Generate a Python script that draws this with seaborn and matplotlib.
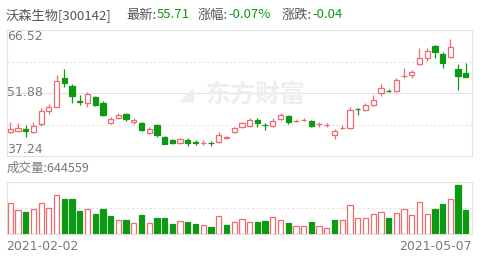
import matplotlib
matplotlib.use("Agg")
import matplotlib.pyplot as plt
import seaborn as sns
import numpy as np

sns.set_theme(style="white")
plt.rcParams['font.family'] = ['Noto Sans CJK SC', 'DejaVu Sans']

# ---- quote header ----
stock_name = "沃森生物"
stock_code = "300142"
last_price = 55.71
pct_change = -0.07
abs_change = -0.04
last_volume = 644559
start_date = "2021-02-02"
end_date = "2021-05-07"

# ---- daily OHLC ----
opens = [42.75, 43.05, 43.44, 42.88, 44.60, 47.70, 48.69, 55.43, 53.51, 50.02,
         49.49, 50.88, 49.49, 44.98, 46.00, 46.93, 45.21, 44.98, 42.51, 44.44,
         41.77, 40.96, 40.19, 40.96, 40.38, 40.31, 40.22, 40.42, 41.35, 42.75,
         44.05, 44.28, 45.60, 44.49, 44.28, 45.84, 46.60, 45.42, 45.58, 45.44,
         44.58, 44.42, 42.12, 43.66, 43.68, 48.13, 47.93, 49.09, 51.81, 52.44,
         52.34, 55.81, 56.06, 58.55, 60.08, 62.87, 60.94, 60.18, 57.46, 56.60]
highs = [45.07, 44.84, 44.44, 45.21, 48.32, 49.25, 56.06, 57.46, 53.90, 51.41,
         52.18, 51.25, 50.02, 46.37, 47.30, 47.16, 46.00, 45.21, 44.05, 44.74,
         41.96, 41.19, 41.49, 41.35, 40.96, 40.96, 40.72, 42.75, 41.89, 44.05,
         45.21, 46.14, 46.00, 44.84, 46.00, 47.16, 46.77, 45.84, 46.14, 45.60,
         45.07, 44.84, 43.51, 44.44, 48.69, 48.32, 49.49, 51.41, 53.90, 52.81,
         55.43, 57.62, 57.22, 62.41, 62.27, 63.03, 61.48, 64.43, 58.55, 58.78]
lows = [42.58, 42.75, 41.72, 42.51, 44.21, 46.93, 48.60, 53.34, 49.49, 49.09,
        48.69, 48.93, 46.60, 44.60, 45.77, 45.44, 44.60, 43.05, 42.35, 41.72,
        39.96, 40.03, 40.10, 39.63, 39.84, 39.79, 39.63, 40.19, 41.19, 42.51,
        43.81, 44.05, 44.05, 43.28, 44.05, 45.60, 44.74, 45.07, 45.37, 44.05,
        44.05, 43.98, 41.19, 43.51, 43.51, 46.77, 47.70, 48.93, 51.25, 52.18,
        52.18, 55.29, 55.43, 58.39, 59.32, 59.94, 57.76, 60.08, 52.58, 55.50]
closes = [43.51, 43.81, 43.05, 44.21, 47.70, 48.69, 54.67, 54.13, 51.18, 49.72,
          51.58, 49.09, 46.77, 45.77, 46.77, 45.84, 45.60, 43.28, 43.51, 42.12,
          40.14, 40.19, 41.12, 40.33, 40.33, 40.36, 40.17, 42.12, 41.72, 43.68,
          44.84, 45.60, 44.84, 44.44, 45.44, 46.77, 45.21, 45.46, 45.62, 44.28,
          44.62, 44.46, 43.05, 43.70, 47.93, 48.07, 49.09, 50.25, 53.11, 52.39,
          54.90, 55.85, 56.83, 59.94, 61.64, 61.48, 58.78, 62.50, 55.75, 55.71]
volumes = [824000, 645000, 600000, 680000, 824000, 698000, 1047000, 949000, 949000, 618000,
           662000, 537000, 680000, 483000, 367000, 367000, 295000, 501000, 295000, 430000,
           430000, 278000, 349000, 313000, 278000, 233000, 188000, 474000, 251000, 331000,
           394000, 322000, 322000, 349000, 448000, 376000, 286000, 215000, 215000, 331000,
           206000, 170000, 385000, 385000, 779000, 421000, 430000, 537000, 582000, 439000,
           555000, 671000, 501000, 850000, 537000, 680000, 815000, 931000, 1316000, 644559]
# day-over-day direction used for the volume bars (1 = up, 0 = down)
volume_up = [1, 1, 0, 1, 1, 1, 1, 0, 0, 0, 1, 0, 0, 0, 1, 0, 1, 0, 1, 0,
             0, 0, 1, 0, 0, 1, 0, 1, 0, 1, 1, 1, 0, 0, 1, 1, 0, 1, 1, 0,
             1, 1, 0, 1, 1, 1, 1, 1, 1, 0, 1, 1, 1, 1, 1, 0, 0, 1, 0, 0]

price_min, price_max = 37.24, 66.52

RED = "#f06a70"
GREEN = "#0c9a12"
GRID = "#e2e2e2"
LABEL = "#7a7a7a"

W, H = 499, 261
fig = plt.figure(figsize=(W / 100, H / 100), dpi=100)
fig.patch.set_facecolor("white")

left, right = 7, 472
ax_p = fig.add_axes([left / W, (H - 156) / H, (right - left) / W, 126 / H])
ax_v = fig.add_axes([left / W, (H - 234) / H, (right - left) / W, 52 / H])

n = len(closes)
x = np.arange(n)
xlim = (-0.42, n - 1 + 0.8)
body_w = 0.68

# ---- candlesticks ----
for i in x:
    o, h, l, c = opens[i], highs[i], lows[i], closes[i]
    up = c >= o
    col = RED if up else GREEN
    top, bot = max(o, c), min(o, c)
    ax_p.vlines(i, top, h, color=col, lw=0.9, zorder=2)
    ax_p.vlines(i, l, bot, color=col, lw=0.9, zorder=2)
    height = max(top - bot, 0.02)
    if up:
        ax_p.bar(i, height, bottom=bot, width=body_w, facecolor="white",
                 edgecolor=col, linewidth=0.9, zorder=3)
    else:
        ax_p.bar(i, height, bottom=bot, width=body_w, facecolor=col,
                 edgecolor=col, linewidth=0.9, zorder=3)

ax_p.set_xlim(*xlim)
ax_p.set_ylim(price_min, price_max)
span = price_max - price_min
for k, ls in [(0.25, (0, (2, 2))), (0.5, "-"), (0.75, (0, (2, 2)))]:
    ax_p.axhline(price_min + span * k, color=GRID, lw=0.8, ls=ls, zorder=0)

# watermark
ax_p.text(0.535, 0.49, "东方财富", transform=ax_p.transAxes, fontsize=18,
          fontweight="bold", color="#eeeeee", ha="center", va="center", zorder=1)
ax_p.text(0.385, 0.49, "◢", transform=ax_p.transAxes, fontsize=14,
          color="#eeeeee", ha="center", va="center", zorder=1,
          family=["DejaVu Sans"])

mid = (price_min + price_max) / 2
ax_p.text(0.0, price_max, f"{price_max:.2f}", transform=ax_p.get_yaxis_transform(),
          fontsize=9, color=LABEL, ha="left", va="top", family=["DejaVu Sans"])
ax_p.text(0.0, mid, f"{mid:.2f}", transform=ax_p.get_yaxis_transform(),
          fontsize=9, color=LABEL, ha="left", va="center", family=["DejaVu Sans"])
ax_p.text(0.0, price_min, f"{price_min:.2f}", transform=ax_p.get_yaxis_transform(),
          fontsize=9, color=LABEL, ha="left", va="bottom", family=["DejaVu Sans"])

# ---- volume bars ----
vmax = max(volumes) * 1.06
for i in x:
    col = RED if volume_up[i] else GREEN
    if volume_up[i]:
        ax_v.bar(i, volumes[i], width=body_w, facecolor="white", edgecolor=col,
                 linewidth=0.9, zorder=3)
    else:
        ax_v.bar(i, volumes[i], width=body_w, facecolor=col, edgecolor=col,
                 linewidth=0.9, zorder=3)
ax_v.set_xlim(*xlim)
ax_v.set_ylim(0, vmax)
ax_v.axhline(vmax / 2, color=GRID, lw=0.8, ls=(0, (2, 2)), zorder=0)

for ax in (ax_p, ax_v):
    ax.set_xticks([])
    ax.set_yticks([])
    for s in ax.spines.values():
        s.set_color(GRID)
        s.set_linewidth(0.8)
    ax.set_facecolor("white")

# ---- header texts: each label is followed directly by its value ----
fs = 9.5
y_head = 1 - 15 / H
renderer = fig.canvas.get_renderer()
groups = [
    (6, [(f"{stock_name}[{stock_code}]", "#555555")]),
    (126, [("最新:", "#555555"), (f"{last_price:.2f}", GREEN)]),
    (198, [("涨幅:", "#555555"), (f"{pct_change:.2f}%", GREEN)]),
    (282, [("涨跌:", "#555555"), (f"{abs_change:.2f}", GREEN)]),
]
for px, items in groups:
    cur = px
    for s, c in items:
        t = fig.text(cur / W, y_head, s, fontsize=fs, color=c, ha="left", va="center")
        cur += t.get_window_extent(renderer).width + 0.5

fig.text(7 / W, 1 - 168 / H, f"成交量:{last_volume}", fontsize=9, color=LABEL,
         ha="left", va="center")
fig.text(6 / W, 1 - 247 / H, start_date, fontsize=9, color=LABEL, ha="left",
         va="center", family=["DejaVu Sans"])
fig.text(472 / W, 1 - 247 / H, end_date, fontsize=9, color=LABEL, ha="right",
         va="center", family=["DejaVu Sans"])

fig.savefig("out.png", dpi=100, facecolor="white")
